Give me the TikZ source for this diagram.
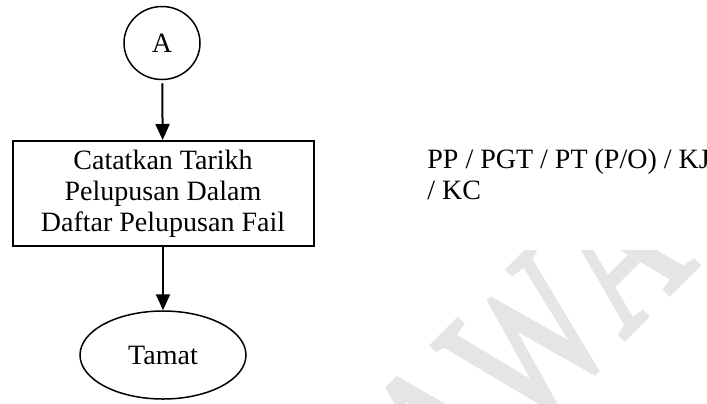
\documentclass[tikz,border=0pt]{standalone}
\usepackage{fontspec}
\setmainfont{Liberation Serif}
\usepackage{tikz}
\usetikzlibrary{arrows.meta,shapes.geometric}

\begin{document}
\begin{tikzpicture}[x=0.5pt, y=-0.5pt,
	flowtext/.style={font=\fontsize{14}{15.5}\selectfont, align=center},
	flowarrow/.style={-{Triangle[length=8pt,width=7pt]}, line width=1pt},
	watermark/.style={font=\fontsize{100}{100}\selectfont\addfontfeatures{Kerning=Off,FakeBold=2.5}, text=black!10, rotate=45, xscale=0.74, inner sep=0pt}]
	\useasboundingbox (0,0) rectangle (707,403);
	% watermark
	\begin{scope}
	\clip (330,250) rectangle (707,403);
	\node[watermark, anchor=base] (mark) at (574,389) {AWA};
	\end{scope}
	% flow
	\node[draw, ellipse, line width=0.75pt, flowtext, minimum width=38pt, minimum height=36.5pt, inner sep=0pt] (conn) at (162,43) {A};
	\node[draw, rectangle, line width=1pt, flowtext, minimum width=150.5pt, minimum height=52.5pt] (record) at (163,193.5) {Catatkan Tarikh\\Pelupusan Dalam\\Daftar Pelupusan Fail};
	\node[draw, ellipse, line width=0.75pt, flowtext, minimum width=83pt, minimum height=44pt, inner sep=0pt] (end) at (163,355) {Tamat};
	\draw[flowarrow, shorten <=1.5pt] (conn) -- (record);
	\draw[flowarrow] (record) -- (end);
	\node[flowtext, align=left, anchor=north west, inner sep=0pt] (role) at (427,149) {PP / PGT / PT (P/O) / KJ\\/ KC};
\end{tikzpicture}
\end{document}
